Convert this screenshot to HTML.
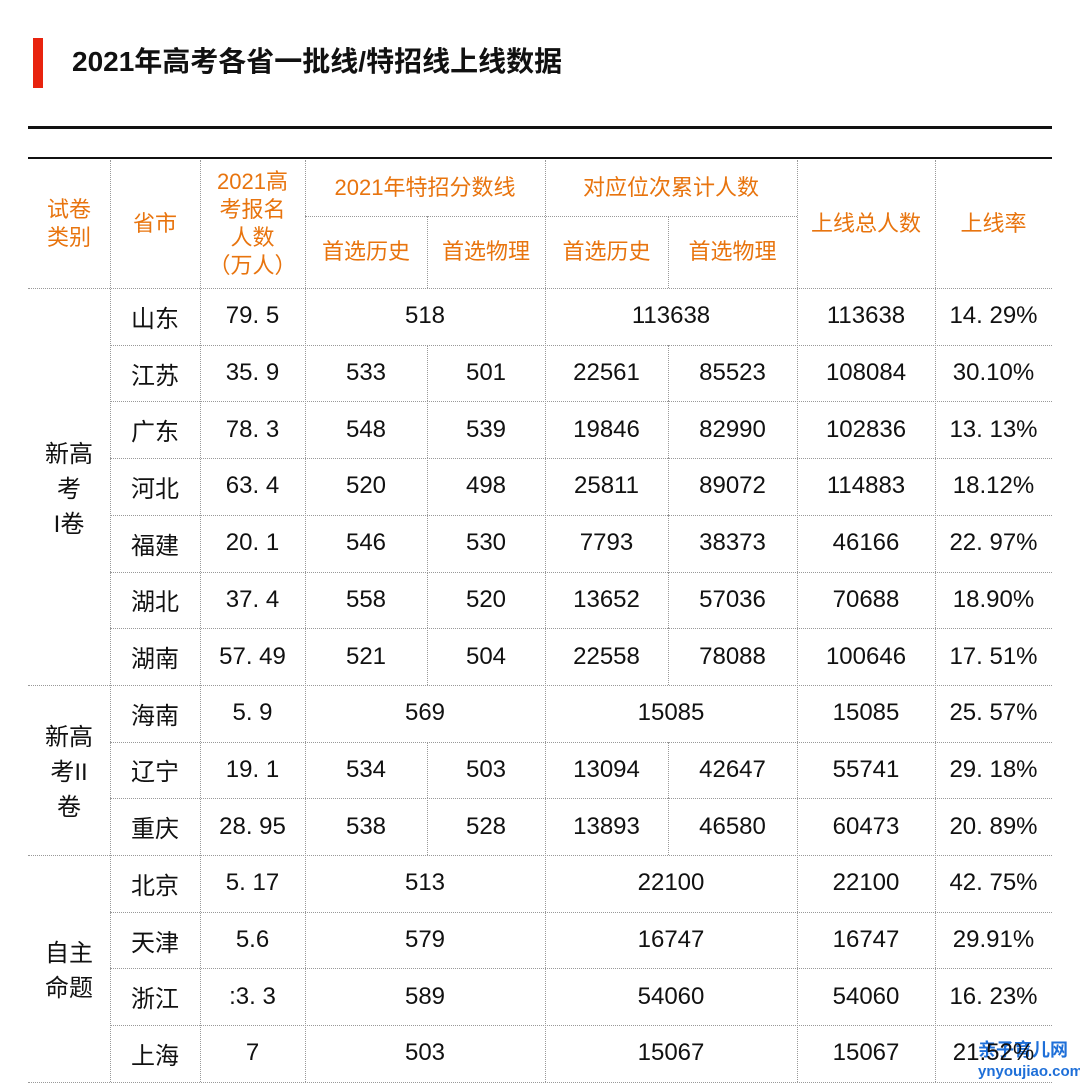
<!DOCTYPE html>
<html><head><meta charset="utf-8"><style>
body{margin:0;width:1080px;height:1084px;background:#fff;position:relative;overflow:hidden;font-family:"Liberation Sans","Noto Sans CJK SC",sans-serif;}
.a{position:absolute;}
.t{position:absolute;display:flex;align-items:center;justify-content:center;text-align:center;color:#111;font-size:24px;}
.h{color:#e8740e;font-size:22px;line-height:28px;}
.hl{position:absolute;border-top:1.5px dotted #999;height:0;}
.vl{position:absolute;border-left:1.5px dotted #999;width:0;}
</style></head><body>
<div class="a" style="left:33px;top:38px;width:10px;height:50px;background:#e8230e"></div>
<div class="a" style="left:72px;top:42px;font-size:28px;font-weight:bold;color:#111;line-height:40px">2021年高考各省一批线/特招线上线数据</div>
<div class="a" style="left:28px;top:126px;width:1024px;height:3px;background:#111"></div>
<div class="a" style="left:28px;top:157px;width:1024px;height:2px;background:#111"></div>
<div id="tbl"></div>
<div class="a" style="left:978px;top:1040px;color:#1e6fd8;font-size:18px;line-height:20px;font-weight:bold">亲子育儿网<br><span style="font-size:15px">ynyoujiao.com</span></div>
<script>
const provinces=["山东","江苏","广东","河北","福建","湖北","湖南","海南","辽宁","重庆","北京","天津","浙江","上海"];
const applicants=["79. 5","35. 9","78. 3","63. 4","20. 1","37. 4","57. 49","5. 9","19. 1","28. 95","5. 17","5.6",":3. 3","7"];
const scoreHist=[518,533,548,520,546,558,521,569,534,538,513,579,589,503];
const scorePhys=[null,501,539,498,530,520,504,null,503,528,null,null,null,null];
const rankHist=[113638,22561,19846,25811,7793,13652,22558,15085,13094,13893,22100,16747,54060,15067];
const rankPhys=[null,85523,82990,89072,38373,57036,78088,null,42647,46580,null,null,null,null];
const totals=[113638,108084,102836,114883,46166,70688,100646,15085,55741,60473,22100,16747,54060,15067];
const rates=["14. 29%","30.10%","13. 13%","18.12%","22. 97%","18.90%","17. 51%","25. 57%","29. 18%","20. 89%","42. 75%","29.91%","16. 23%","21.52%"];
const groups=[["新高\n考\nI卷",0,7],["新高\n考II\n卷",7,10],["自主\n命题",10,14]];
const X=[28,110,200,305,427,545,668,797,935,1052];
const T=288,RH=56.7,HT=160,SUB=216,B=1082;
const root=document.body;
function cell(x1,x2,y1,y2,txt,cls,name){
 const d=document.createElement('div');d.className='t '+(cls||'');
 d.style.left=x1+'px';d.style.width=(x2-x1)+'px';d.style.top=y1+'px';d.style.height=(y2-y1)+'px';
 d.innerHTML=String(txt).replace(/\n/g,'<br>');
 
 
 root.appendChild(d);}
function hl(x1,x2,y){const d=document.createElement('div');d.className='hl';d.style.left=x1+'px';d.style.width=(x2-x1)+'px';d.style.top=y+'px';
 
 root.appendChild(d);}
function vl(x,y1,y2){const d=document.createElement('div');d.className='vl';d.style.left=x+'px';d.style.top=y1+'px';d.style.height=(y2-y1)+'px';
 
 root.appendChild(d);}
cell(X[0],X[1],HT,T,"试卷\n类别","h","header-paper-type");
cell(X[1],X[2],HT,T,"省市","h","header-province");
cell(X[2],X[3],HT,T,"2021高\n考报名\n人数\n（万人）","h","header-applicants");
cell(X[3],X[5],HT,SUB,"2021年特招分数线","h","header-score-line");
cell(X[5],X[7],HT,SUB,"对应位次累计人数","h","header-rank");
cell(X[3],X[4],SUB,T,"首选历史","h","header-score-history");
cell(X[4],X[5],SUB,T,"首选物理","h","header-score-physics");
cell(X[5],X[6],SUB,T,"首选历史","h","header-rank-history");
cell(X[6],X[7],SUB,T,"首选物理","h","header-rank-physics");
cell(X[7],X[8],HT,T,"上线总人数","h","header-total");
cell(X[8],X[9],HT,T,"上线率","h","header-rate");
hl(X[3],X[7],SUB);vl(X[4],SUB,T);vl(X[6],SUB,T);
hl(X[0],X[9],T);
[1,2,3,5,7,8].forEach(i=>vl(X[i],HT,B));
provinces.forEach((p,i)=>{
 const y1=T+i*RH,y2=y1+RH;
 cell(X[1],X[2],y1,y2,p,'','province-cell');
 cell(X[2],X[3],y1,y2,applicants[i],'','applicants-cell');
 if(scorePhys[i]===null){
  cell(X[3],X[5],y1,y2,scoreHist[i],'','score-cell');
  cell(X[5],X[7],y1,y2,rankHist[i],'','rank-cell');
 }else{
  cell(X[3],X[4],y1,y2,scoreHist[i],'','score-history-cell');
  cell(X[4],X[5],y1,y2,scorePhys[i],'','score-physics-cell');
  cell(X[5],X[6],y1,y2,rankHist[i],'','rank-history-cell');
  cell(X[6],X[7],y1,y2,rankPhys[i],'','rank-physics-cell');
  vl(X[4],y1,y2);vl(X[6],y1,y2);
 }
 cell(X[7],X[8],y1,y2,totals[i],'','total-cell');
 cell(X[8],X[9],y1,y2,rates[i],'','rate-cell');
 const end=groups.some(g=>g[2]===i+1);
 hl(end?X[0]:X[1],X[9],y2);
});
groups.forEach(g=>{cell(X[0],X[1],T+g[1]*RH,T+g[2]*RH,g[0],'','paper-type-cell');});
</script>
</body></html>
